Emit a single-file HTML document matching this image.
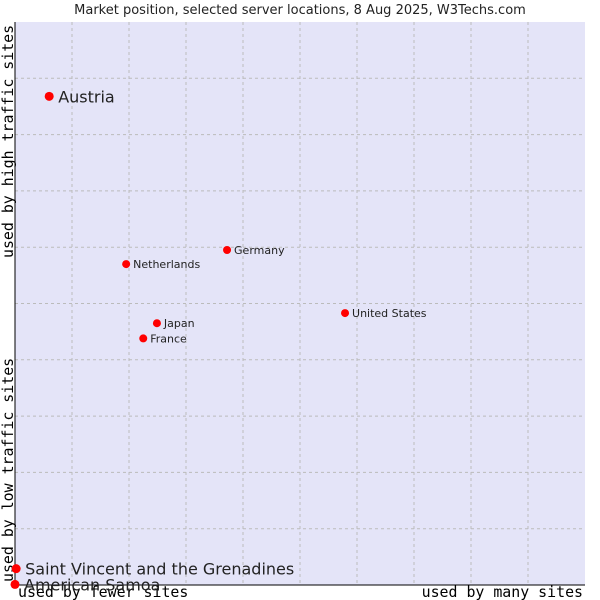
<!DOCTYPE html>
<html><head><meta charset="utf-8"><style>
body{margin:0;background:#fff;width:600px;height:600px;overflow:hidden}
svg{display:block}
</style></head><body>
<svg id="chart" width="600" height="600" font-family="'DejaVu Sans','Liberation Sans',sans-serif">
<text x="300" y="14" text-anchor="middle" font-size="13" fill="#222">Market position, selected server locations, 8 Aug 2025, W3Techs.com</text>
<rect x="15" y="22" width="570" height="563" fill="#e4e4f8"/>
<g id="grid"></g>
<path d="M15 22 V585 H585" fill="none" stroke="#000" stroke-width="1"/>
<text transform="translate(13,258) rotate(-90)" font-family="'DejaVu Sans Mono','Liberation Mono',monospace" font-size="14.9" fill="#000">used by high traffic sites</text>
<text transform="translate(13,582) rotate(-90)" font-family="'DejaVu Sans Mono','Liberation Mono',monospace" font-size="14.9" fill="#000">used by low traffic sites</text>
<text x="18" y="597" font-family="'DejaVu Sans Mono','Liberation Mono',monospace" font-size="14.9" fill="#000">used by fewer sites</text>
<text x="583" y="597" text-anchor="end" font-family="'DejaVu Sans Mono','Liberation Mono',monospace" font-size="14.9" fill="#000">used by many sites</text>
<g id="points"></g>
</svg>
<script>
const names = ["Austria","Netherlands","Germany","United States","Japan","France","Saint Vincent and the Grenadines","American Samoa"];
const xValues = [6.0,19.5,37.2,57.9,24.9,22.5,0.2,0.0];
const yValues = [86.8,57.0,59.5,48.3,46.5,43.8,2.9,0.1];
const bigLabel = [true,false,false,false,false,false,true,true];
const NS="http://www.w3.org/2000/svg";
const xs=v=>15+v*5.7, ys=v=>585-v*5.63;
const grid=document.getElementById('grid');
for(let i=1;i<10;i++){
  const v=document.createElementNS(NS,'line');
  v.setAttribute('x1',xs(i*10));v.setAttribute('x2',xs(i*10));v.setAttribute('y1',22);v.setAttribute('y2',585);
  v.setAttribute('stroke','#bbb');v.setAttribute('stroke-dasharray','3,3');
  
  
  grid.appendChild(v);
  const h=document.createElementNS(NS,'line');
  h.setAttribute('y1',ys(i*10));h.setAttribute('y2',ys(i*10));h.setAttribute('x1',15);h.setAttribute('x2',585);
  h.setAttribute('stroke','#bbb');h.setAttribute('stroke-dasharray','3,3');
  
  
  grid.appendChild(h);
}
const pts=document.getElementById('points');
names.forEach((n,i)=>{
  const g=document.createElementNS(NS,'g');
  
  
  const x=xs(xValues[i]), y=ys(yValues[i]);
  const c=document.createElementNS(NS,'circle');
  c.setAttribute('cx',x);c.setAttribute('cy',y);c.setAttribute('r',bigLabel[i]?4.5:4);c.setAttribute('fill','#f00');
  
  
  g.appendChild(c);
  const t=document.createElementNS(NS,'text');
  t.setAttribute('x',x+(bigLabel[i]?9:7));t.setAttribute('y',y+(bigLabel[i]?6:4));
  t.setAttribute('font-size',bigLabel[i]?16:11);t.setAttribute('fill','#222');
  t.textContent=n;
  
  
  g.appendChild(t);
  pts.appendChild(g);
});
</script>
</body></html>
